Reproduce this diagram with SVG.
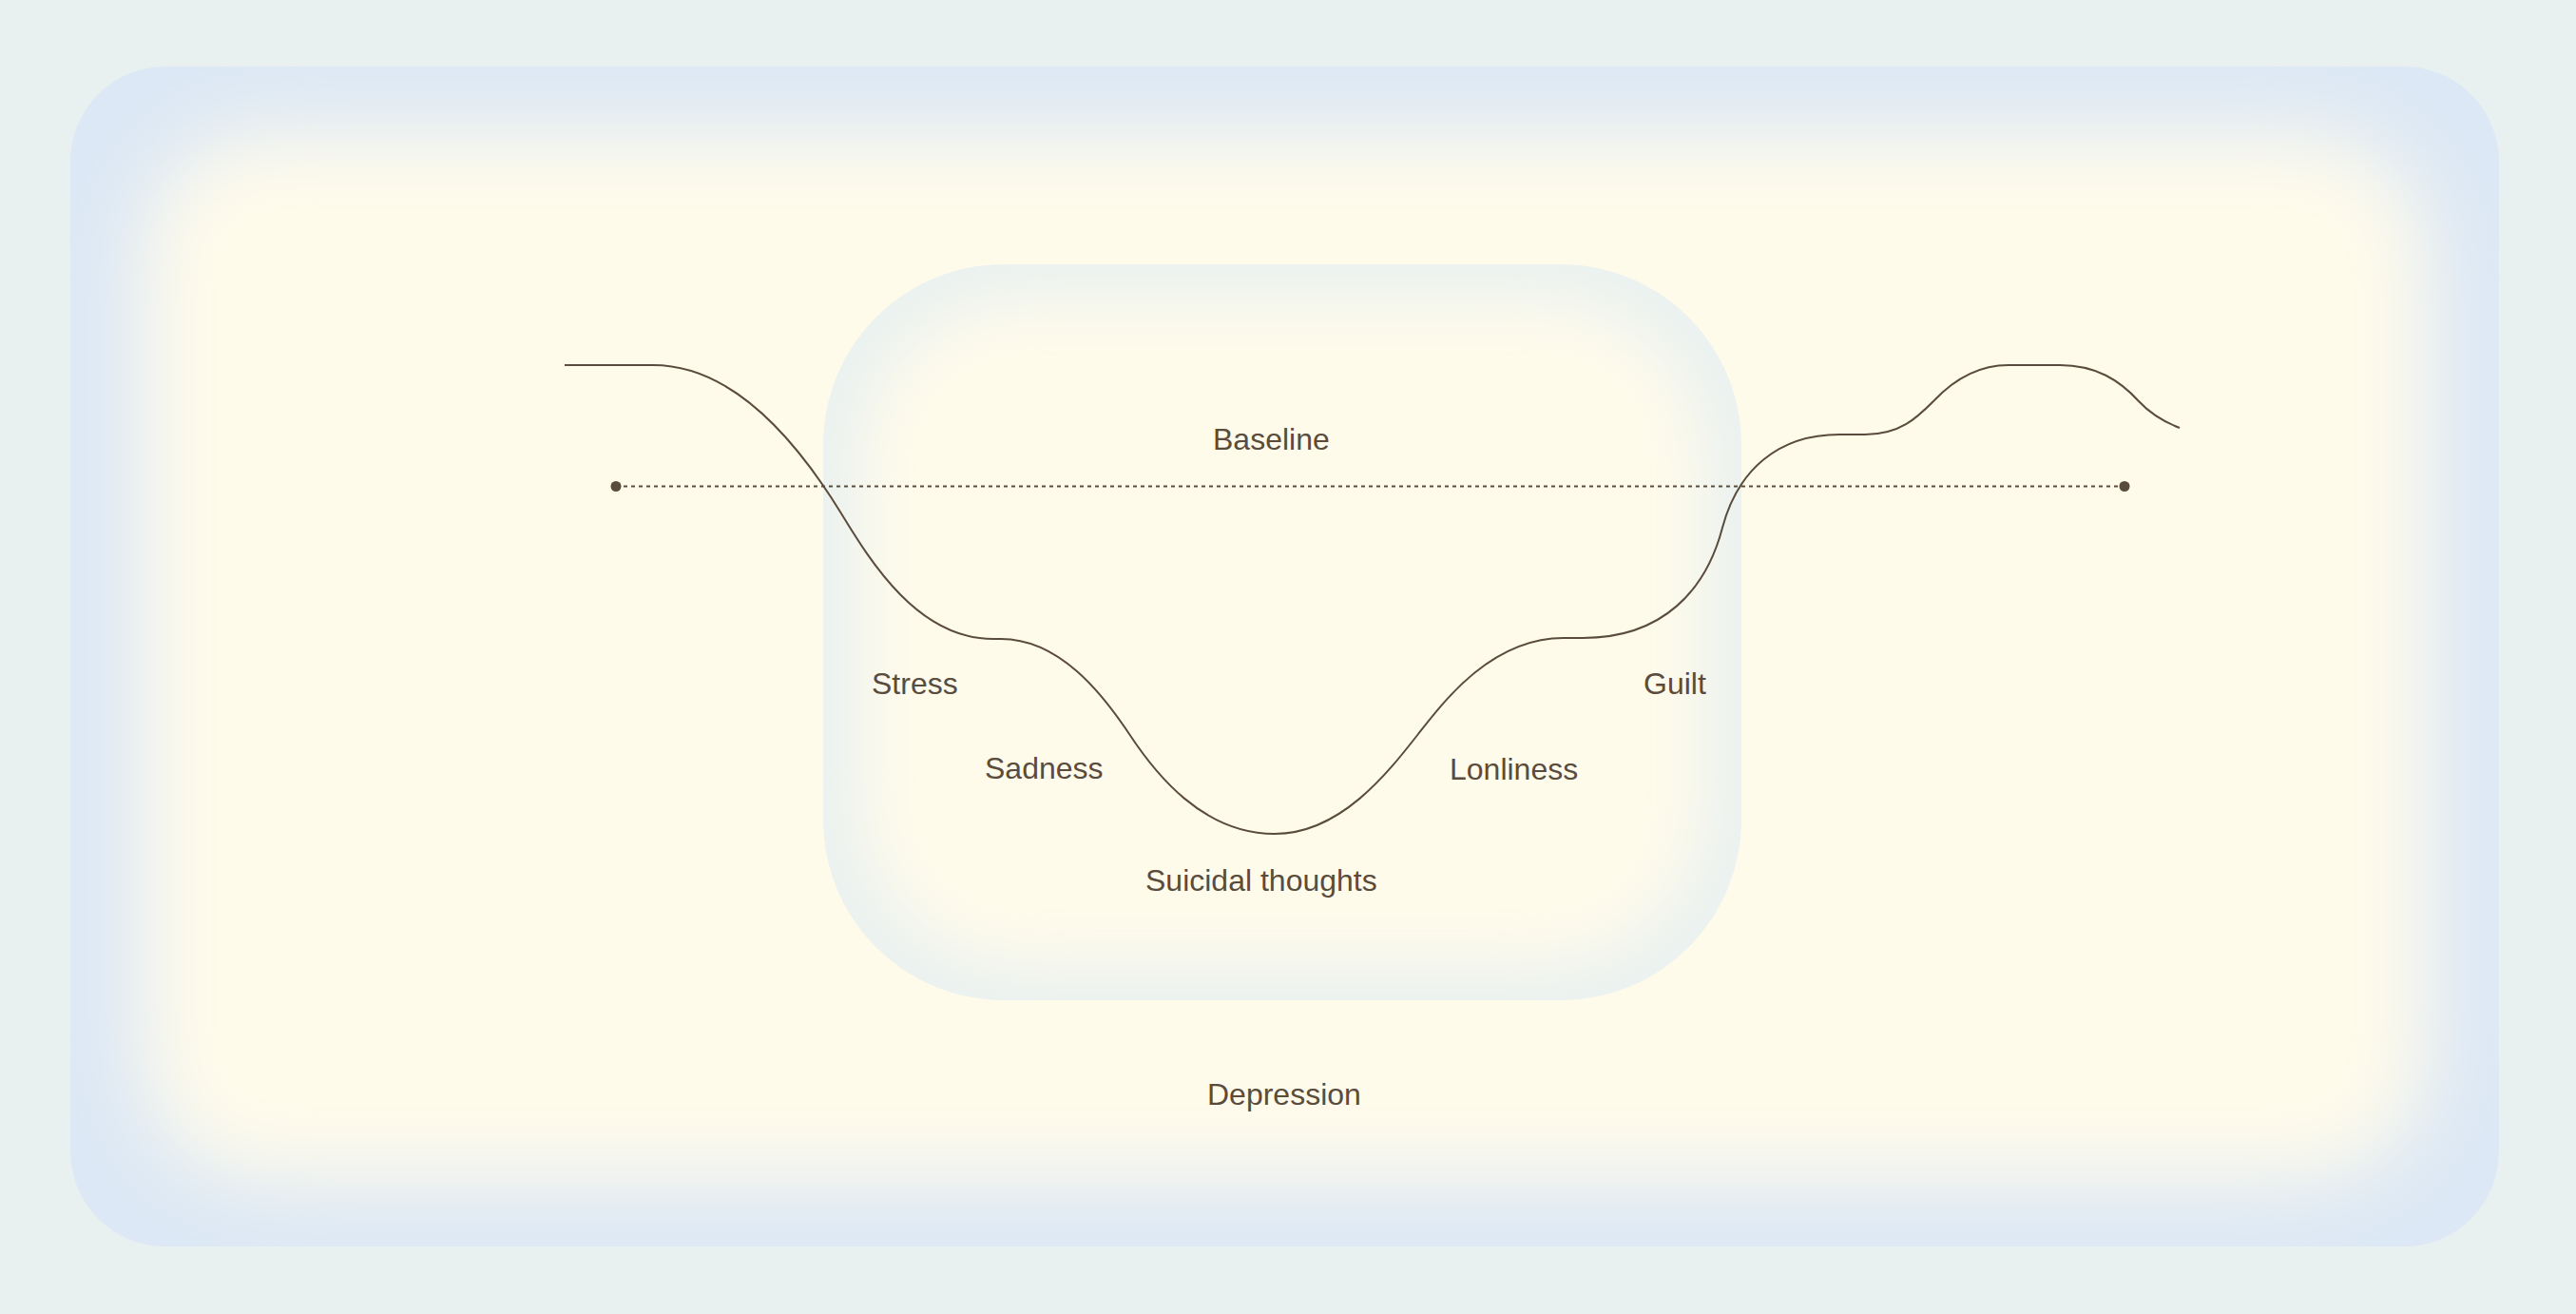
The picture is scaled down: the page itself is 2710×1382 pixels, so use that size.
<svg xmlns="http://www.w3.org/2000/svg" width="2710" height="1382" viewBox="0 0 2710 1382">
  <style>
    .lbl { font-family: "Liberation Sans", Arial, sans-serif; font-size: 32px; fill: #5a4c3d; }
    .ink { fill: none; stroke: #5a4c3d; stroke-width: 2; }
    .dots { fill: none; stroke: #5a4c3d; stroke-width: 2; stroke-dasharray: 4 4; }
  </style>
  <defs>
    <clipPath id="clipOuter">
      <rect x="74" y="70" width="2555" height="1241" rx="100" ry="100"/>
    </clipPath>
    <clipPath id="clipInner">
      <rect x="866" y="278" width="966" height="774" rx="190" ry="190"/>
    </clipPath>
    <filter id="softOuter" x="-20%" y="-20%" width="140%" height="140%">
      <feGaussianBlur stdDeviation="42"/>
    </filter>
    <filter id="softInner" x="-30%" y="-30%" width="160%" height="160%">
      <feGaussianBlur stdDeviation="34"/>
    </filter>
  </defs>

  <rect x="0" y="0" width="2710" height="1382" fill="#e8f0f0"/>

  <g id="depression">
    <g clip-path="url(#clipOuter)">
      <rect x="74" y="70" width="2555" height="1241" fill="#dce8f5"/>
      <rect x="150" y="140" width="2403" height="1101" rx="130" ry="130" fill="#fffbeb" filter="url(#softOuter)"/>
    </g>
    <text class="lbl" x="1270" y="1162">Depression</text>
  </g>

  <g id="baseline-zone">
    <g clip-path="url(#clipInner)">
      <rect x="866" y="278" width="966" height="774" fill="#eaf1f0"/>
      <rect x="906" y="316" width="886" height="698" rx="170" ry="170" fill="#fffbeb" filter="url(#softInner)"/>
    </g>
    <text class="lbl" x="1276" y="473">Baseline</text>
  </g>

  <g id="connectors">
    <line class="dots" x1="648" y1="511.5" x2="2235" y2="511.5"/>
    <circle cx="648" cy="511.5" r="5.5" fill="#5a4c3d"/>
    <circle cx="2235" cy="511.5" r="5.5" fill="#5a4c3d"/>
    <path class="ink" d="M594,384 L687,384 C780,384 850,483 885,540 C915,589 965,672 1045,672 L1053,672 C1115,672 1160,730 1188,772 C1215,813 1265,877 1341,877 C1410,877 1460,813 1492,772 C1520,736 1570,671 1645,671 L1665,671 C1750,671 1795,620 1812,555 C1828,495 1870,457 1935,457 L1962,457 C2000,457 2018,438 2035,421 C2055,400 2080,384 2113,384 L2167,384 C2205,384 2230,400 2250,422 C2265,438 2280,445 2293,450"/>
  </g>

  <g id="stress"><text class="lbl" x="917" y="730">Stress</text></g>
  <g id="sadness"><text class="lbl" x="1036" y="819">Sadness</text></g>
  <g id="suicidal-thoughts"><text class="lbl" x="1205" y="937">Suicidal thoughts</text></g>
  <g id="lonliness"><text class="lbl" x="1525" y="820">Lonliness</text></g>
  <g id="guilt"><text class="lbl" x="1729" y="730">Guilt</text></g>
</svg>
